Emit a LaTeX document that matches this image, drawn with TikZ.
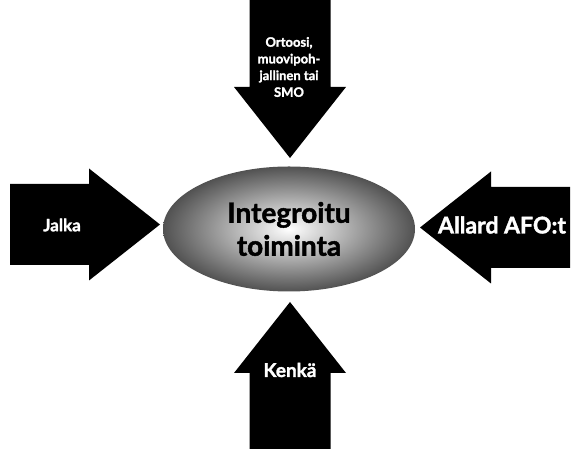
\documentclass[tikz,border=0pt]{standalone}
\usepackage{fontspec}
\setmainfont{Lato}[BoldFeatures={FakeBold=1.6}]
\usetikzlibrary{shapes.geometric}

\tikzset{
  pics/bigarrow/.style={code={
    \fill (0,-\sw) -- ({#1-\hl},-\sw) -- ({#1-\hl},-\hw) -- (#1,0)
      -- ({#1-\hl},\hw) -- ({#1-\hl},\sw) -- (0,\sw) -- cycle;
  }},
  arrowtext/.style={text=white, font=\bfseries, align=center, inner sep=0pt},
}

\begin{document}
\begin{tikzpicture}[x=1pt,y=1pt]
\def\sw{40.5}
\def\hw{56}
\def\hl{71}
\useasboundingbox (0,0) rectangle (576,449);
\pic at (10,224.5) {bigarrow=150};
\pic[rotate=180] at (570,221.5) {bigarrow=150};
\pic[rotate=-90] at (290,449) {bigarrow=158};
\pic[rotate=90] at (290,0) {bigarrow=147};
\node[ellipse, minimum width=252pt, minimum height=125pt, inner sep=0pt,
  shading=radial, inner color=white, outer color=black!68,
  font=\fontsize{28}{33}\selectfont\bfseries, align=center] (center) at (289,220)
  {Integroitu\\toiminta};
\node[arrowtext, font=\fontsize{13}{16.7}\selectfont\bfseries] (orthosis) at (289,382)
  {Ortoosi,\\muovipoh-\\jallinen tai\\SMO};
\node[arrowtext, font=\fontsize{17}{20}\selectfont\bfseries] (foot) at (62,224) {Jalka};
\node[arrowtext, font=\fontsize{23}{26}\selectfont\bfseries] (afo) at (502,224) {Allard AFO:t};
\node[arrowtext, font=\fontsize{19}{22}\selectfont\bfseries] (shoe) at (290,79) {Kenkä};
\end{tikzpicture}
\end{document}
